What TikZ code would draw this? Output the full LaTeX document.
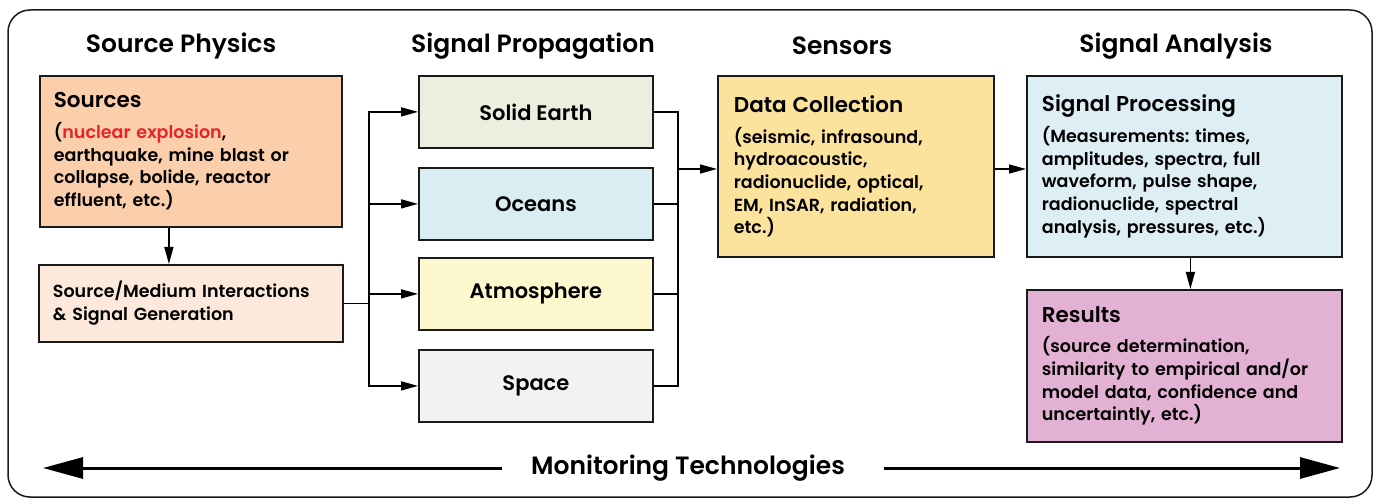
\documentclass[tikz,border=0pt]{standalone}
\usepackage{fontspec}
\setmainfont{Poppins SemiBold}
\usetikzlibrary{arrows.meta,calc}
\frenchspacing

\definecolor{frameline}{HTML}{1A1A1A}
\definecolor{srcfill}{HTML}{FBCEAC}
\definecolor{smfill}{HTML}{FDE9DB}
\definecolor{earthfill}{HTML}{ECEEE0}
\definecolor{oceanfill}{HTML}{DAEDF3}
\definecolor{atmofill}{HTML}{FDF8CE}
\definecolor{spacefill}{HTML}{F2F2F2}
\definecolor{datafill}{HTML}{FCE39D}
\definecolor{procfill}{HTML}{DDEEF4}
\definecolor{resfill}{HTML}{E3B1D3}
\definecolor{alertred}{HTML}{E8232A}

\tikzset{
  header/.style={font=\fontsize{25}{29}\selectfont, anchor=center},
  textbox/.style={draw=frameline, line width=1.8pt, anchor=north west,
    align=left, inner xsep=14pt, inner ysep=0pt,
    font=\fontsize{17.5}{22.7}\selectfont},
  mediumbox/.style={draw=frameline, line width=1.8pt, anchor=north west,
    minimum width=234pt, minimum height=72pt, inner sep=0pt,
    font=\fontsize{21}{24}\selectfont},
  flow/.style={line width=1.4pt, draw=black,
    -{Triangle[length=17pt,width=9pt]}},
  plain/.style={line width=1.4pt, draw=black},
  bigflow/.style={line width=3pt, draw=black,
    -{Triangle[length=40pt,width=21pt]}},
}
\newcommand{\boxtitle}[1]{{\fontsize{21.5}{24}\selectfont #1}}

\begin{document}
\begin{tikzpicture}[x=1pt,y=-1pt]
\useasboundingbox (0,0) rectangle (1380,502);

% outer frame
\draw[line width=1.5pt, rounded corners=22pt, draw=frameline] (8,10) rectangle (1372,497);

% column headers
\node[header] (hsrc)  at (181,46) {Source Physics};
\node[header] (hprop) at (533,46) {Signal Propagation};
\node[header] (hsens) at (842,46) {Sensors};
\node[header] (hana)  at (1176,46) {Signal Analysis};

% source physics column
\node[textbox, fill=srcfill, text width=274pt, minimum height=151pt] (src) at (39,75)
  {\boxtitle{Sources}\\[8pt]
   (\textcolor{alertred}{nuclear explosion},\\
   earthquake, mine blast or\\
   collapse, bolide, reactor\\
   effluent, etc.)};
\node[textbox, fill=smfill, text width=276pt, minimum height=77pt] (sm) at (38,264)
  {Source/Medium Interactions\\
   \& Signal Generation};

% propagation media
\node[mediumbox, fill=earthfill] (se)  at (418,75)  {Solid Earth};
\node[mediumbox, fill=oceanfill] (oc)  at (418,167) {Oceans};
\node[mediumbox, fill=atmofill]  (atm) at (418,257) {Atmosphere};
\node[mediumbox, fill=spacefill] (spc) at (418,349) {Space};

% sensors
\node[textbox, fill=datafill, text width=244pt, minimum height=181pt, inner xsep=16pt] (dc) at (717,75)
  {\boxtitle{Data Collection}\\[8pt]
   (seismic, infrasound,\\
   hydroacoustic,\\
   radionuclide, optical,\\
   EM, InSAR, radiation,\\
   etc.)};

% signal analysis
\node[textbox, fill=procfill, text width=285pt, minimum height=181pt, inner xsep=15pt] (sp) at (1026,75)
  {\boxtitle{Signal Processing}\\[8pt]
   (Measurements: times,\\
   amplitudes, spectra, full\\
   waveform, pulse shape,\\
   radionuclide, spectral\\
   analysis, pressures, etc.)};
\node[textbox, fill=resfill, text width=285pt, minimum height=152pt, inner xsep=15pt] (res) at (1026,289)
  {\boxtitle{Results}\\[8pt]
   (source determination,\\
   similarity to empirical and/or\\
   model data, confidence and\\
   uncertaintly, etc.)};

% connectors
\draw[flow] ([xshift=-22pt]src.south) -- ([xshift=-22pt]sm.north);

\path (sm.east) -- ++(25,0) coordinate (splitL);
\draw[plain] (sm.east) -- (splitL);
\draw[flow] (splitL) |- (se.west);
\draw[flow] (splitL) |- (oc.west);
\draw[flow] (splitL) |- (atm.west);
\draw[flow] (splitL) |- (spc.west);

\coordinate (joinR) at (678,169);
\draw[plain] (se.east) -| (joinR);
\draw[plain] (oc.east) -| (joinR);
\draw[plain] (atm.east) -| (joinR);
\draw[plain] (spc.east) -| (joinR);
\draw[flow] (joinR) -- (dc.west |- joinR);

\draw[flow] (dc.east |- joinR) -- (sp.west |- joinR);
\draw[flow] ([xshift=6pt]sp.south) -- ([xshift=6pt]res.north);

% monitoring technologies banner
\node[font=\fontsize{25}{29}\selectfont] (mon) at (688,468) {Monitoring Technologies};
\coordinate (monL) at (43,468);
\coordinate (monR) at (1340,468);
\draw[bigflow] ([xshift=-26pt]mon.west) -- (monL);
\draw[bigflow] ([xshift=36pt]mon.east) -- (monR);
\end{tikzpicture}
\end{document}
